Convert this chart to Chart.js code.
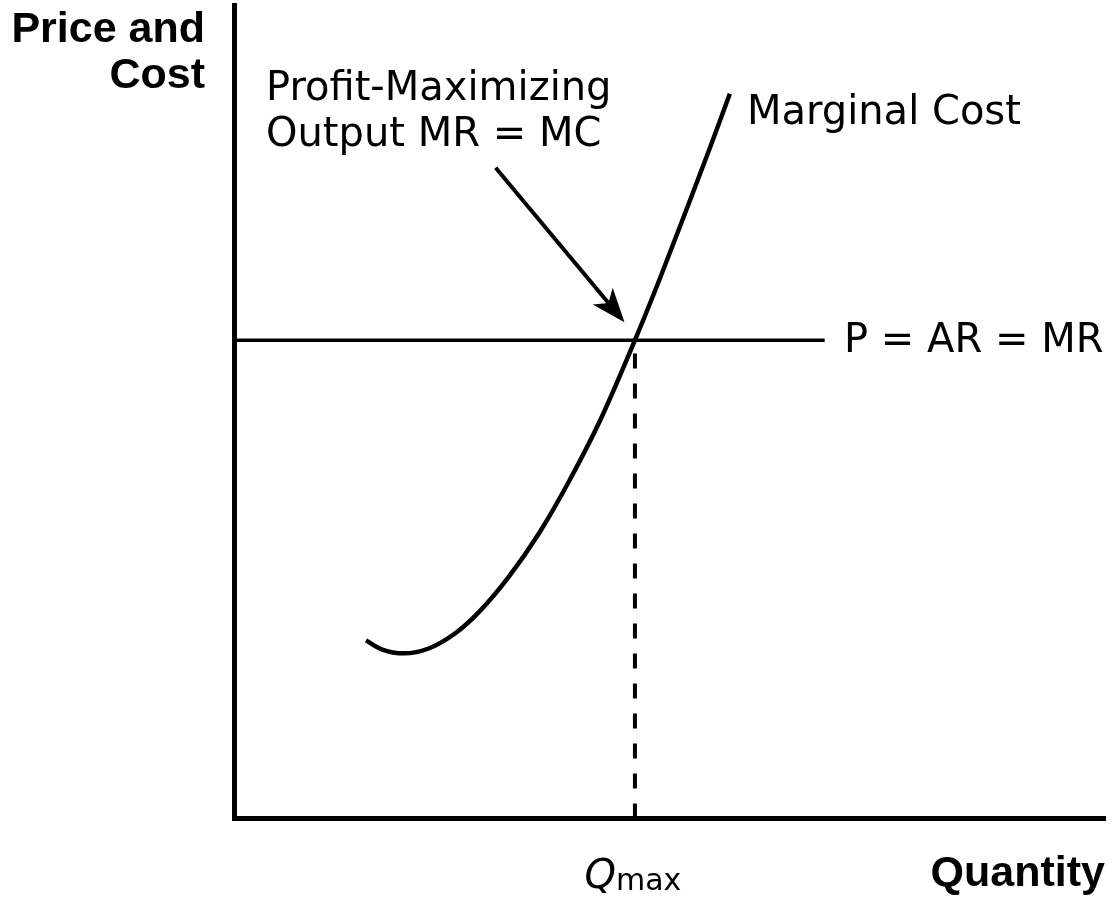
<!DOCTYPE html>
<html>
<head>
<meta charset="utf-8">
<script src="https://cdn.jsdelivr.net/npm/chart.js@4.4.1/dist/chart.umd.min.js"></script>
<style>
  html, body { margin: 0; padding: 0; background: #fff; }
</style>
</head>
<body>
<canvas id="chart" width="1115" height="900"></canvas>
<script>
// marginal cost curve (quantity 0..10, price 0..10)
const mcQty  = [1.51, 1.69, 1.95, 2.23, 2.54, 2.81, 3.15, 3.50, 3.84, 4.19, 4.60, 4.88, 5.19, 5.46, 5.69];
const mcCost = [2.19, 2.08, 2.03, 2.09, 2.28, 2.54, 2.97, 3.51, 4.14, 4.87, 5.88, 6.62, 7.48, 8.24, 8.91];

// price line P = AR = MR and the profit-maximizing quantity
const priceQty = [0, 6.78];
const priceLevel = [5.88, 5.88];
const qMaxQty = [4.60, 4.60];
const qMaxCost = [0, 5.88];

// arrow pointing at MR = MC
const arrowQty  = [3.00, 4.48];
const arrowCost = [8.00, 6.10];

const ink = '#000';
const pts = (xs, ys) => xs.map((x, i) => ({ x, y: ys[i] }));

const labelsPlugin = {
  id: 'labels',
  afterDraw(chart) {
    const { ctx, scales: { x, y } } = chart;
    ctx.save();
    ctx.fillStyle = ink;
    ctx.strokeStyle = ink;

    // arrow
    const x0 = x.getPixelForValue(arrowQty[0]), y0 = y.getPixelForValue(arrowCost[0]);
    const x1 = x.getPixelForValue(arrowQty[1]), y1 = y.getPixelForValue(arrowCost[1]);
    const len = Math.hypot(x1 - x0, y1 - y0);
    const dx = (x1 - x0) / len, dy = (y1 - y0) / len;
    const nx = -dy, ny = dx;
    const L = 34, W = 13, notch = 9;
    ctx.lineWidth = 4;
    ctx.beginPath();
    ctx.moveTo(x0, y0);
    ctx.lineTo(x1 - (L - notch) * dx, y1 - (L - notch) * dy);
    ctx.stroke();
    ctx.beginPath();
    ctx.moveTo(x1, y1);
    ctx.lineTo(x1 - L * dx + W * nx, y1 - L * dy + W * ny);
    ctx.lineTo(x1 - (L - notch) * dx, y1 - (L - notch) * dy);
    ctx.lineTo(x1 - L * dx - W * nx, y1 - L * dy - W * ny);
    ctx.closePath();
    ctx.fill();

    // axis titles
    ctx.font = 'bold 43px "Liberation Sans", Arial, sans-serif';
    ctx.textAlign = 'right';
    ctx.textBaseline = 'alphabetic';
    ctx.fillText('Price and', 205, 42);
    ctx.fillText('Cost', 205, 88);
    ctx.fillText('Quantity', 1105, 886);

    // annotations
    ctx.font = '40px "DejaVu Sans", sans-serif';
    ctx.textAlign = 'left';
    ctx.fillText('Profit-Maximizing', 266, 100);
    ctx.fillText('Output MR = MC', 266, 146);
    ctx.fillText('Marginal Cost', 747, 124);
    ctx.fillText('P = AR = MR', 844, 352);

    // Q max tick label
    const qx = x.getPixelForValue(qMaxQty[0]);
    ctx.font = 'italic 40px "DejaVu Sans", sans-serif';
    const qw = ctx.measureText('Q').width;
    ctx.font = '30px "DejaVu Sans", sans-serif';
    const mw = ctx.measureText('max').width;
    const start = qx - (qw + mw) / 2 - 2;
    ctx.font = 'italic 40px "DejaVu Sans", sans-serif';
    ctx.fillText('Q', start, 888);
    ctx.font = '30px "DejaVu Sans", sans-serif';
    ctx.fillText('max', start + qw, 890);
    ctx.restore();
  }
};

new Chart(document.getElementById('chart'), {
  type: 'scatter',
  data: {
    datasets: [
      {
        label: 'Marginal Cost',
        data: pts(mcQty, mcCost),
        showLine: true,
        borderColor: ink,
        borderWidth: 4.5,
        pointRadius: 0,
        cubicInterpolationMode: 'monotone',
        fill: false,
      },
      {
        label: 'P = AR = MR',
        data: pts(priceQty, priceLevel),
        showLine: true,
        borderColor: ink,
        borderWidth: 3.5,
        pointRadius: 0,
        fill: false,
      },
      {
        label: 'Qmax',
        data: pts(qMaxQty, qMaxCost),
        showLine: true,
        borderColor: ink,
        borderWidth: 4,
        borderDash: [15, 15],
        pointRadius: 0,
        fill: false,
      },
    ],
  },
  options: {
    responsive: false,
    animation: false,
    events: [],
    layout: { padding: { left: 226.5, right: 10, top: 5, bottom: 73.5 } },
    plugins: { legend: { display: false }, tooltip: { enabled: false } },
    scales: {
      x: {
        type: 'linear', min: 0, max: 10,
        grid: { display: false },
        ticks: { display: false },
        border: { display: true, color: ink, width: 5 },
      },
      y: {
        type: 'linear', min: 0, max: 10,
        grid: { display: false },
        ticks: { display: false },
        border: { display: true, color: ink, width: 5 },
      },
    },
  },
  plugins: [labelsPlugin],
});
</script>
</body>
</html>
